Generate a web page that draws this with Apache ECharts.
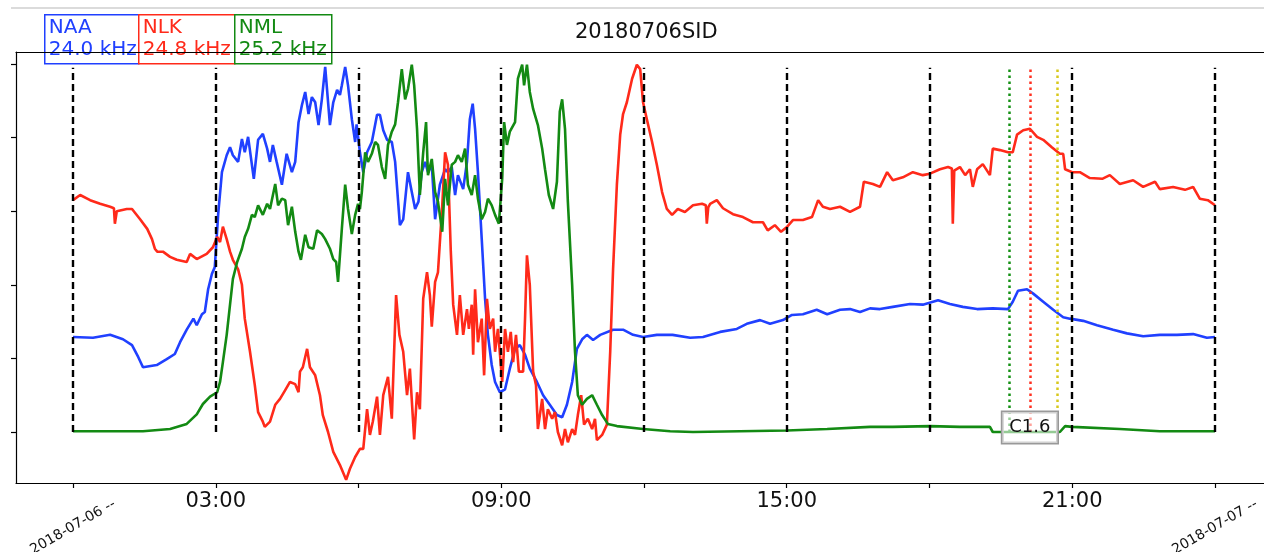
<!DOCTYPE html>
<html>
<head>
<meta charset="utf-8">
<script src="https://cdn.jsdelivr.net/npm/echarts@6/dist/echarts.min.js"></script>
<style>
  html, body { margin: 0; padding: 0; background: #fff; }
  #chart { width: 1264px; height: 552px; }
</style>
</head>
<body>
<div id="chart"></div>
<script>
// stations (legend boxes)
var stations = ['NAA', 'NLK', 'NML'];
var freqs = ['24.0 kHz', '24.8 kHz', '25.2 kHz'];
var colors = ['#2040ff', '#ff2a1a', '#138a13'];

// x ticks (hours since 2018-07-06 00:00)
var tickHours = [0, 3, 6, 9, 12, 15, 18, 21, 24];
var timeLabelHours = [3, 9, 15, 21];
var timeLabels = ['03:00', '09:00', '15:00', '21:00'];
var dateLabelHours = [0, 24];
var dateLabels = ['2018-07-06 --', '2018-07-07 --'];
var yTicks = [0, 1, 2, 3, 4, 5];

// flare marks
var flareTimes = [19.67, 20.11, 20.68];
var flareColors = ['#139013', '#ff3020', '#d8c81a'];
var flareClass = 'C1.6';

// [hour, normalised amplitude]
var naa = [[0,1.29],[0.42,1.28],[0.78,1.32],[1.05,1.26],[1.24,1.18],[1.37,1.02],[1.47,0.88],[1.76,0.91],[1.97,0.99],[2.14,1.06],[2.25,1.22],[2.39,1.39],[2.53,1.54],[2.6,1.45],[2.71,1.6],[2.77,1.63],[2.84,1.94],[2.92,2.15],[2.98,2.24],[3.05,2.95],[3.13,3.53],[3.23,3.76],[3.3,3.87],[3.36,3.76],[3.47,3.67],[3.55,3.98],[3.61,3.8],[3.68,4.01],[3.8,3.44],[3.89,3.97],[3.99,4.05],[4.08,3.85],[4.14,3.67],[4.2,3.9],[4.28,3.67],[4.39,3.36],[4.49,3.78],[4.6,3.53],[4.67,3.67],[4.74,4.21],[4.81,4.44],[4.88,4.62],[4.95,4.32],[5.02,4.55],[5.09,4.48],[5.16,4.17],[5.23,4.52],[5.3,4.96],[5.4,4.17],[5.47,4.48],[5.55,4.65],[5.61,4.58],[5.65,4.71],[5.72,4.96],[5.78,4.71],[5.86,4.25],[5.93,3.94],[5.96,4.18],[6.03,3.8],[6.1,3.53],[6.18,3.8],[6.28,3.94],[6.39,4.31],[6.45,4.31],[6.52,4.1],[6.6,3.97],[6.7,3.94],[6.77,3.67],[6.87,2.81],[6.94,2.89],[7.04,3.53],[7.12,3.26],[7.19,3.03],[7.26,3.13],[7.33,3.53],[7.4,3.67],[7.46,3.53],[7.54,3.63],[7.61,2.89],[7.71,3.36],[7.82,3.57],[7.88,3.53],[7.96,3.6],[8.03,3.22],[8.09,3.49],[8.2,3.3],[8.28,3.67],[8.34,4.25],[8.4,4.46],[8.45,4.12],[8.51,3.53],[8.59,2.62],[8.66,1.81],[8.72,1.32],[8.8,0.91],[8.87,0.68],[8.97,0.54],[9.08,0.58],[9.18,0.86],[9.29,1.13],[9.39,1.18],[9.5,1.05],[9.6,0.86],[9.75,0.68],[9.88,0.5],[10.02,0.37],[10.17,0.23],[10.28,0.2],[10.38,0.37],[10.49,0.68],[10.59,1.13],[10.7,1.26],[10.8,1.32],[10.93,1.25],[11.08,1.32],[11.35,1.39],[11.56,1.39],[11.77,1.32],[11.98,1.29],[12.27,1.32],[12.6,1.32],[12.97,1.28],[13.24,1.29],[13.6,1.36],[13.95,1.4],[14.16,1.47],[14.44,1.52],[14.65,1.47],[14.92,1.52],[15.11,1.59],[15.34,1.6],[15.63,1.66],[15.85,1.6],[16.12,1.66],[16.33,1.67],[16.54,1.63],[16.75,1.68],[16.96,1.67],[17.23,1.7],[17.59,1.74],[17.86,1.73],[18.18,1.79],[18.43,1.74],[18.7,1.7],[19.0,1.67],[19.33,1.68],[19.65,1.67],[19.75,1.77],[19.86,1.92],[20.05,1.94],[20.18,1.88],[20.39,1.77],[20.6,1.66],[20.81,1.56],[20.95,1.54],[21.23,1.51],[21.52,1.45],[21.86,1.39],[22.15,1.34],[22.49,1.3],[22.84,1.32],[23.2,1.32],[23.54,1.33],[23.83,1.28],[24.0,1.29]];

var nlk = [[0,3.15],[0.15,3.22],[0.36,3.15],[0.57,3.1],[0.78,3.06],[0.86,3.04],[0.88,2.83],[0.92,3.0],[0.95,2.99],[1.13,3.03],[1.24,3.03],[1.41,2.89],[1.56,2.76],[1.66,2.62],[1.72,2.49],[1.77,2.45],[1.89,2.45],[2.04,2.38],[2.18,2.34],[2.39,2.31],[2.46,2.42],[2.6,2.35],[2.81,2.42],[2.94,2.51],[3.03,2.65],[3.09,2.58],[3.15,2.79],[3.23,2.62],[3.3,2.45],[3.36,2.34],[3.47,2.21],[3.55,2.0],[3.61,1.54],[3.72,1.09],[3.82,0.64],[3.89,0.27],[3.99,0.14],[4.03,0.07],[4.14,0.14],[4.25,0.37],[4.35,0.45],[4.46,0.57],[4.56,0.68],[4.67,0.65],[4.74,0.54],[4.77,0.82],[4.83,0.88],[4.92,1.13],[4.98,0.88],[5.09,0.77],[5.19,0.5],[5.25,0.23],[5.36,0.0],[5.47,-0.27],[5.61,-0.45],[5.74,-0.65],[5.82,-0.5],[5.93,-0.34],[6.03,-0.23],[6.1,-0.23],[6.18,0.31],[6.24,-0.04],[6.3,0.14],[6.39,0.48],[6.45,-0.04],[6.52,0.5],[6.62,0.75],[6.7,0.18],[6.79,1.86],[6.86,1.32],[6.94,1.09],[7.02,0.5],[7.08,0.86],[7.17,-0.1],[7.23,0.54],[7.29,0.31],[7.36,1.81],[7.44,2.17],[7.5,1.86],[7.54,1.43],[7.61,2.04],[7.67,2.17],[7.76,3.08],[7.82,3.8],[7.88,3.63],[7.94,2.45],[7.99,1.73],[8.07,1.32],[8.13,1.86],[8.2,1.32],[8.28,1.67],[8.32,1.4],[8.38,1.73],[8.41,1.05],[8.45,1.94],[8.51,1.22],[8.59,1.54],[8.64,0.77],[8.7,1.81],[8.76,1.4],[8.83,1.54],[8.87,1.09],[8.93,1.4],[9.02,0.68],[9.08,1.4],[9.14,1.09],[9.2,1.36],[9.25,0.95],[9.31,1.32],[9.37,0.82],[9.46,0.82],[9.5,1.54],[9.54,2.4],[9.6,2.0],[9.67,0.82],[9.73,0.64],[9.77,0.04],[9.86,0.45],[9.92,0.04],[9.98,0.31],[10.07,0.18],[10.13,0.27],[10.19,0.0],[10.28,-0.18],[10.34,0.04],[10.4,-0.14],[10.49,0.04],[10.55,-0.04],[10.61,0.23],[10.68,0.5],[10.74,0.1],[10.82,0.18],[10.91,0.04],[10.97,0.18],[11.01,-0.11],[11.12,-0.04],[11.22,0.1],[11.29,1.09],[11.35,2.21],[11.43,3.36],[11.5,4.04],[11.56,4.32],[11.64,4.48],[11.75,4.8],[11.85,4.99],[11.92,4.93],[11.98,4.48],[12.06,4.25],[12.17,3.94],[12.27,3.63],[12.38,3.26],[12.48,3.03],[12.59,2.95],[12.71,3.03],[12.86,2.99],[13.03,3.08],[13.22,3.1],[13.3,3.08],[13.32,2.83],[13.35,3.05],[13.39,3.1],[13.53,3.15],[13.66,3.04],[13.87,2.96],[14.08,2.92],[14.29,2.85],[14.5,2.85],[14.6,2.74],[14.75,2.81],[14.88,2.72],[15.01,2.79],[15.13,2.88],[15.34,2.88],[15.53,2.92],[15.66,3.15],[15.76,3.06],[15.91,3.03],[16.12,3.06],[16.33,2.99],[16.54,3.06],[16.62,3.4],[16.81,3.37],[16.96,3.33],[17.11,3.53],[17.23,3.42],[17.44,3.46],[17.65,3.53],[17.86,3.49],[18.01,3.51],[18.22,3.57],[18.39,3.6],[18.47,3.58],[18.49,2.83],[18.52,3.55],[18.64,3.6],[18.75,3.49],[18.85,3.57],[18.91,3.33],[19.0,3.57],[19.12,3.64],[19.27,3.49],[19.33,3.85],[19.48,3.83],[19.65,3.8],[19.75,3.8],[19.84,4.04],[19.97,4.1],[20.11,4.12],[20.26,4.01],[20.39,3.97],[20.57,3.87],[20.74,3.78],[20.81,3.78],[20.85,3.57],[21.0,3.53],[21.16,3.53],[21.37,3.45],[21.63,3.44],[21.79,3.49],[22.0,3.37],[22.28,3.42],[22.49,3.33],[22.74,3.4],[22.84,3.3],[23.12,3.33],[23.37,3.29],[23.54,3.33],[23.68,3.17],[23.85,3.15],[24.0,3.08]];

var nml = [[0,0.01],[1.47,0.01],[2.04,0.04],[2.39,0.11],[2.6,0.24],[2.73,0.38],[2.88,0.48],[3.03,0.54],[3.09,0.68],[3.15,0.95],[3.23,1.32],[3.3,1.73],[3.36,2.08],[3.45,2.31],[3.55,2.49],[3.61,2.65],[3.68,2.76],[3.76,2.95],[3.82,2.92],[3.89,3.08],[3.99,2.95],[4.08,3.1],[4.14,3.03],[4.25,3.37],[4.31,3.08],[4.39,3.17],[4.46,3.15],[4.52,2.81],[4.6,3.06],[4.67,2.72],[4.74,2.45],[4.79,2.34],[4.88,2.68],[4.95,2.51],[5.05,2.49],[5.13,2.74],[5.23,2.69],[5.3,2.62],[5.4,2.49],[5.47,2.35],[5.53,2.31],[5.57,2.04],[5.65,2.76],[5.72,3.36],[5.78,3.03],[5.86,2.69],[5.93,2.95],[5.99,3.1],[6.03,3.03],[6.07,3.26],[6.14,3.8],[6.2,3.67],[6.28,3.78],[6.35,3.94],[6.41,3.9],[6.49,3.6],[6.56,3.44],[6.62,3.9],[6.7,4.08],[6.77,4.18],[6.83,4.48],[6.91,4.93],[6.98,4.52],[7.04,4.66],[7.12,4.99],[7.17,4.71],[7.23,4.12],[7.29,3.22],[7.36,3.8],[7.42,4.21],[7.46,3.49],[7.54,3.71],[7.61,3.26],[7.67,3.13],[7.76,2.72],[7.82,3.44],[7.88,3.08],[7.96,3.63],[8.03,3.67],[8.09,3.76],[8.17,3.67],[8.24,3.85],[8.3,3.36],[8.38,3.22],[8.45,3.49],[8.51,3.17],[8.59,2.89],[8.66,2.99],[8.72,3.17],[8.8,3.08],[8.87,2.95],[8.95,2.83],[9.02,3.44],[9.06,4.21],[9.12,3.9],[9.18,4.08],[9.29,4.21],[9.35,4.8],[9.44,4.99],[9.48,4.71],[9.54,4.99],[9.6,4.62],[9.67,4.39],[9.77,4.17],[9.86,3.85],[9.92,3.57],[10.0,3.22],[10.09,3.03],[10.17,3.4],[10.23,4.35],[10.28,4.52],[10.34,4.12],[10.4,3.13],[10.49,2.0],[10.55,1.09],[10.61,0.5],[10.7,0.37],[10.8,0.45],[10.91,0.5],[11.01,0.37],[11.12,0.23],[11.24,0.11],[11.43,0.08],[11.98,0.04],[12.55,0.01],[13.03,0.0],[15.0,0.02],[15.85,0.04],[16.75,0.07],[17.23,0.07],[18.01,0.08],[18.64,0.07],[19.27,0.07],[19.33,0.0],[19.69,0.0],[20.74,0.0],[20.85,0.08],[21.0,0.07],[22.0,0.04],[22.84,0.01],[24.0,0.01]];

var font = 'DejaVu Sans';
var lineTop = 4.95;

var chart = echarts.init(document.getElementById('chart'));

// legend boxes drawn as graphic (text + coloured frame)
var boxX = [44, 138, 234], boxW = [94, 96, 97];
var legendBoxes = stations.map(function (s, i) {
  return {
    type: 'group', left: boxX[i], top: 14,
    children: [
      { type: 'rect', shape: { x: 0, y: 0, width: boxW[i], height: 49 },
        style: { fill: '#fff', stroke: colors[i], lineWidth: 1.5 } },
      { type: 'text', x: 4, y: 2,
        style: { text: s + '\n' + freqs[i], fill: colors[i], font: '20px "' + font + '"', lineHeight: 22 } }
    ]
  };
});

var series = [naa, nlk, nml].map(function (d, i) {
  return {
    name: stations[i], type: 'line', data: d, showSymbol: false, symbol: 'none',
    lineStyle: { color: colors[i], width: 2.6 }, itemStyle: { color: colors[i] },
    z: 2, silent: true, animation: false
  };
});

// vertical dashed hour lines
series.push({
  type: 'line', data: [], z: 4, silent: true, animation: false,
  markLine: {
    symbol: 'none', silent: true, animation: false, label: { show: false },
    lineStyle: { color: '#000', width: 2.4, type: [7, 4] },
    data: tickHours.map(function (h) { return [{ coord: [h, 0] }, { coord: [h, lineTop] }]; })
  }
});

// flare start / peak / end dotted lines
series.push({
  type: 'line', data: [], z: 4, silent: true, animation: false,
  markLine: {
    symbol: 'none', silent: true, animation: false, label: { show: false },
    data: flareTimes.map(function (t, i) {
      return [{ coord: [t, 0], lineStyle: { color: flareColors[i], width: 2.5, type: [2.5, 3.5] } }, { coord: [t, lineTop] }];
    })
  },
  markPoint: {
    symbol: 'rect', symbolSize: 1, silent: true, animation: false,
    itemStyle: { color: 'rgba(0,0,0,0)' },
    label: {
      show: true, position: 'inside', formatter: flareClass, color: '#111',
      fontFamily: font, fontSize: 18, padding: [7, 7, 6, 7],
      backgroundColor: 'rgba(255,255,255,0.55)', borderColor: '#999', borderWidth: 1.5
    },
    data: [{ coord: [flareTimes[1], 0.06] }]
  }
});

var option = {
  animation: false,
  title: {
    text: '20180706SID', left: 570, top: 17,
    textStyle: { fontFamily: font, fontSize: 21, fontWeight: 'normal', color: '#111' }
  },
  grid: { left: 16, top: 52, right: 0, bottom: 69, containLabel: false, outerBoundsMode: 'none' },
  xAxis: [
    {
      type: 'value', position: 'bottom', min: -1.198, max: 25.03,
      splitLine: { show: false },
      axisLine: { show: true, onZero: false, lineStyle: { color: '#000', width: 1.2 } },
      axisTick: { show: true, length: 5, customValues: tickHours, lineStyle: { color: '#000', width: 1.2 } },
      axisLabel: {
        show: true, customValues: timeLabelHours, margin: 8, color: '#111',
        fontFamily: font, fontSize: 21,
        formatter: function (v) { return timeLabels[timeLabelHours.indexOf(v)]; }
      }
    },
    {
      type: 'value', position: 'bottom', min: -1.198, max: 25.03,
      splitLine: { show: false }, axisLine: { show: false }, axisTick: { show: false },
      axisLabel: {
        show: true, customValues: dateLabelHours, rotate: 30, margin: 44,
        align: 'center', verticalAlign: 'middle', color: '#111',
        fontFamily: font, fontSize: 14,
        formatter: function (v) { return dateLabels[dateLabelHours.indexOf(v)]; }
      }
    },
    {
      type: 'value', position: 'top', min: -1.198, max: 25.03,
      splitLine: { show: false },
      axisLine: { show: true, onZero: false, lineStyle: { color: '#000', width: 1.2 } },
      axisTick: { show: false }, axisLabel: { show: false }
    }
  ],
  yAxis: {
    type: 'value', min: -0.693, max: 5.163,
    splitLine: { show: false },
    axisLine: { show: true, onZero: false, lineStyle: { color: '#000', width: 1.2 } },
    axisTick: { show: true, length: 5, customValues: yTicks, lineStyle: { color: '#000', width: 1.2 } },
    axisLabel: { show: false }
  },
  graphic: [
    { type: 'line', shape: { x1: 11, y1: 8, x2: 1264, y2: 8 }, style: { stroke: '#cfcfcf', lineWidth: 1.5 } }
  ].concat(legendBoxes),
  series: series
};

chart.setOption(option);
</script>
</body>
</html>
